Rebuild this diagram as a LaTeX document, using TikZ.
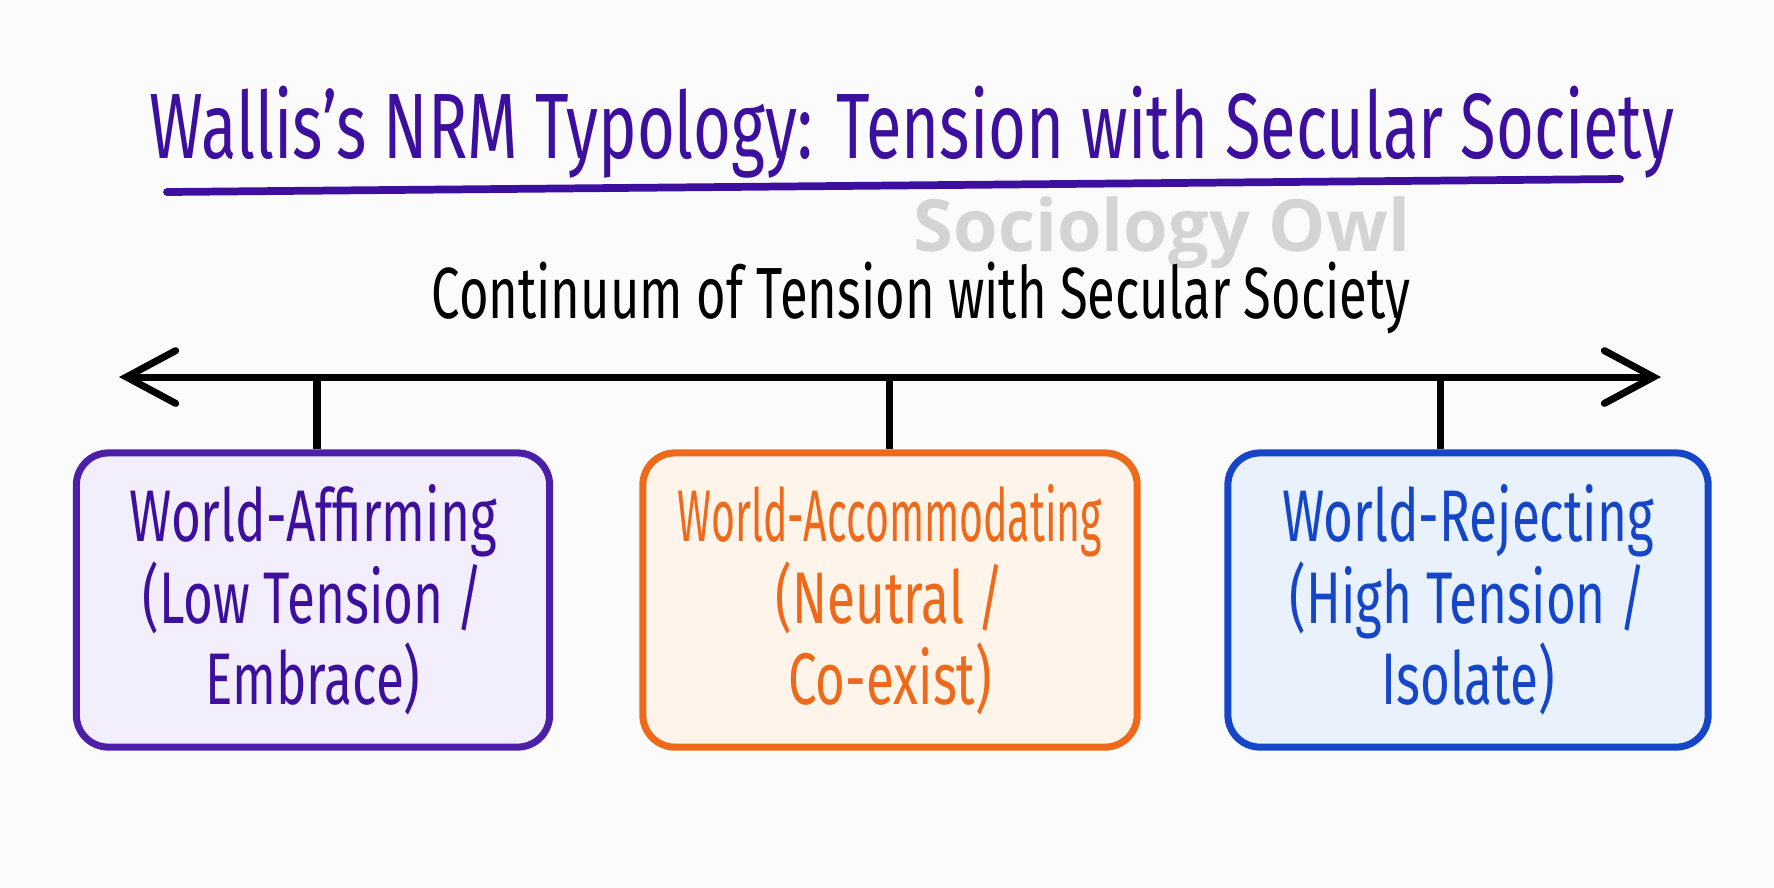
\documentclass[tikz,border=0pt]{standalone}
\usepackage{fontspec}
\usepackage{graphicx}
\setmainfont{Fira Sans}[FakeStretch=0.7]
\newfontfamily\owlfont{Open Sans}
\usetikzlibrary{arrows.meta}

\definecolor{inkpurple}{HTML}{3D0F9E}
\definecolor{affirmline}{HTML}{4B1FA8}
\definecolor{affirmfill}{HTML}{F3EEFC}
\definecolor{accomline}{HTML}{EE6A1A}
\definecolor{accomfill}{HTML}{FEF4EA}
\definecolor{rejectline}{HTML}{1646C8}
\definecolor{rejectfill}{HTML}{E8F1FC}
\definecolor{owlgray}{HTML}{D4D4D4}
\definecolor{paper}{HTML}{FBFBFC}

% squeeze one line of text to a given width
\newcommand{\fitline}[2]{\resizebox{#1}{\height}{#2}}

\tikzset{
    typebox/.style={draw, line width=2pt, rounded corners=0.32cm,
        minimum height=2.94cm, align=center, inner sep=0pt,
        font=\fontsize{20.8}{23.2}\selectfont},
    tickline/.style={line width=2pt},
    axisline/.style={line width=2pt, line cap=round,
        >={Straight Barb[length=14pt,width=15pt,line cap=round]}},
}

\begin{document}
\begin{tikzpicture}[x=0.01cm,y=-0.01cm]
    % Page:
    \fill [paper] (0,0) rectangle (1774,887);
    \useasboundingbox (0,0) rectangle (1774,887);

    % Heading, underline and watermark:
    \node (title) [anchor=base, text=inkpurple, font=\fontsize{26.4}{30}\selectfont]
        at (912,158) {Wallis's NRM Typology: Tension with Secular Society};
    \coordinate (ulA) at (167,192);
    \coordinate (ulB) at (1620,179);
    \draw [inkpurple, line width=2.2pt, line cap=round] (ulA) -- (ulB);
    \node (owl) [anchor=base, text=owlgray, font=\owlfont\bfseries\fontsize{20.5}{24}\selectfont]
        at (1162,251) {Sociology Owl};
    \node (axislabel) [anchor=base, font=\fontsize{20.6}{24}\selectfont]
        at (921,318) {Continuum of Tension with Secular Society};

    % Axis, arrow tips on both ends:
    \coordinate (axL) at (119,377);
    \coordinate (axR) at (1661,377);
    \draw [axisline, <->] (axL) -- (axR);

    % Boxes:
    \node (affirm) [typebox, color=affirmline, fill=affirmfill, text=inkpurple,
        minimum width=4.73cm] at (313,600)
        {World-Affirming\\(Low Tension /\\Embrace)};
    \node (accom) [typebox, color=accomline, fill=accomfill, text=accomline,
        minimum width=4.94cm] at (890,600)
        {\fitline{4.24cm}{World-Accommodating}\\(Neutral /\\Co-exist)};
    \node (reject) [typebox, color=rejectline, fill=rejectfill, text=rejectline,
        minimum width=4.80cm] at (1468,600)
        {World-Rejecting\\(High Tension /\\Isolate)};

    % Ticks from the axis down to the boxes:
    \coordinate (t1) at (317,377);
    \coordinate (t2) at (889,377);
    \coordinate (t3) at (1440,377);
    \draw [tickline] (t1) -- (affirm.north -| t1);
    \draw [tickline] (t2) -- (accom.north -| t2);
    \draw [tickline] (t3) -- (reject.north -| t3);
\end{tikzpicture}
\end{document}
